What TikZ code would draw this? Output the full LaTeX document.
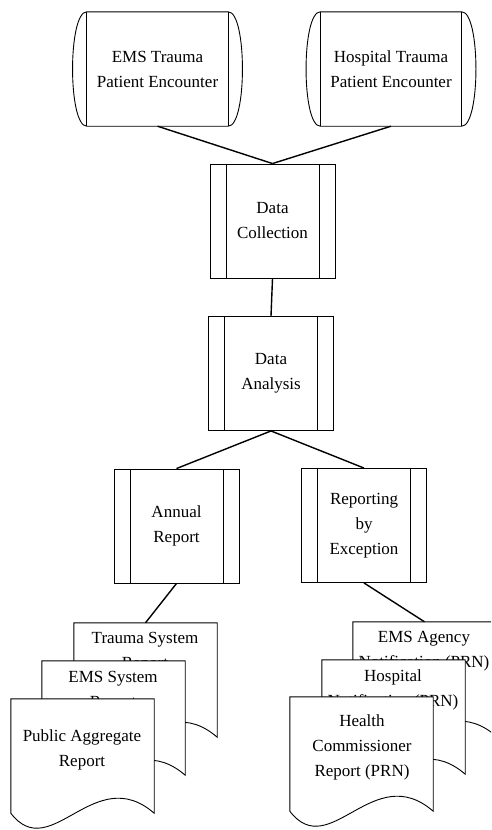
\documentclass[tikz,border=0pt]{standalone}
\usepackage{fontspec}
\setmainfont{Liberation Serif}
\usetikzlibrary{calc}
\newcommand\docoutline[1]{\draw[outline, fill=white] (#1.north west) -- (#1.north east) -- (#1.south east) .. controls +(-60,-52) and +(40,52) .. (#1.south west) -- cycle;}
\begin{document}
\begin{tikzpicture}[x=1pt,y=-1pt,
  txt/.style={font=\fontsize{17}{25}\selectfont, align=center, inner sep=0pt},
  outline/.style={line width=0.9pt},
  link/.style={line width=1.4pt},
  box/.style={txt, draw, line width=0.9pt, minimum width=125pt, minimum height=114pt,
    path picture={\draw[line width=0.9pt]
      ([xshift=16pt]path picture bounding box.north west) -- ([xshift=16pt]path picture bounding box.south west)
      ([xshift=-16pt]path picture bounding box.north east) -- ([xshift=-16pt]path picture bounding box.south east);}},
  store/.style={txt, minimum width=141pt, minimum height=114pt},
  docnode/.style={minimum width=143pt, minimum height=114pt, inner sep=0pt}]
\path[use as bounding box] (0,0) rectangle (491,830);
\clip (0,0) rectangle (491,830);

% stored data shapes
\node[store] (ems) at (157.5,69) {EMS Trauma\\Patient Encounter};
\draw[outline] (ems.north west) -- (ems.north east) .. controls +(19,0) and +(19,0) .. (ems.south east)
  -- (ems.south west) .. controls +(-19,0) and +(-19,0) .. (ems.north west) -- cycle;
\draw[outline] (ems.north west) -- (ems.south west) (ems.north east) -- (ems.south east);

\node[store] (hosp) at (391,69) {Hospital Trauma\\Patient Encounter};
\draw[outline] (hosp.north west) -- (hosp.north east) .. controls +(19,0) and +(19,0) .. (hosp.south east)
  -- (hosp.south west) .. controls +(-19,0) and +(-19,0) .. (hosp.north west) -- cycle;
\draw[outline] (hosp.north west) -- (hosp.south west) (hosp.north east) -- (hosp.south east);

% process boxes
\node[box] (coll) at (272.5,221) {Data\\Collection};
\node[box] (anal) at (271,373.5) {Data\\Analysis};
\node[box] (annual) at (176.5,526) {Annual\\Report};
\node[box] (rbe) at (364,525.5) {Reporting\\by\\Exception};

% left document stack
\node[docnode] (trauma) at (145.5,680) {};
\docoutline{trauma}
\node[txt] (traumat) at (145,652.5) {Trauma System\\Report};
\node[docnode] (emssys) at (113.5,718) {};
\docoutline{emssys}
\node[txt] (emssyst) at (113,691.5) {EMS System\\Report};
\node[docnode] (public) at (82.5,756) {};
\docoutline{public}
\node[txt] (publict) at (82,749.5) {Public Aggregate\\Report};

% right document stack
\node[docnode] (agency) at (424.5,679) {};
\docoutline{agency}
\node[txt] (agencyt) at (424,651.5) {EMS Agency\\Notification (PRN)};
\node[docnode] (hospn) at (393.5,717) {};
\docoutline{hospn}
\node[txt] (hospnt) at (393,689.5) {Hospital\\Notification (PRN)};
\node[docnode] (health) at (361.5,754) {};
\docoutline{health}
\node[txt] (healtht) at (362,747) {Health\\Commissioner\\Report (PRN)};

% connectors
\draw[link] (ems.south) -- (coll.north);
\draw[link] (hosp.south) -- (coll.north);
\draw[link] (coll.south) -- (anal.north);
\draw[link] (anal.south) -- (annual.north);
\draw[link] (anal.south) -- (rbe.north);
\draw[link] (annual.south) -- (trauma.north);
\draw[link] (rbe.south) -- (agency.north);
\end{tikzpicture}
\end{document}
